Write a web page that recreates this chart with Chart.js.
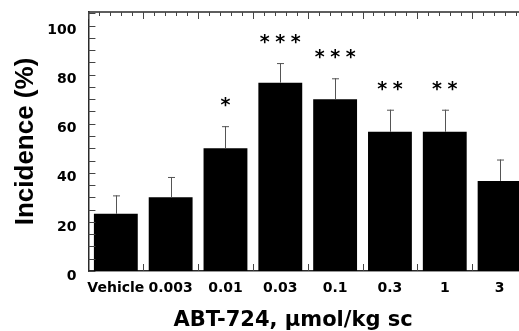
<!DOCTYPE html>
<html>
<head>
<meta charset="utf-8">
<script src="https://cdn.jsdelivr.net/npm/chart.js@4"></script>
<style>
  html, body { margin: 0; padding: 0; background: #fff; overflow: hidden; }
  #wrap { width: 530px; height: 331px; }
</style>
</head>
<body>
<div id="wrap"><canvas id="incidenceChart"></canvas></div>
<script>
// ABT-724 dose groups (umol/kg sc) and incidence (%)
const doses = ['Vehicle', '0.003', '0.01', '0.03', '0.1', '0.3', '1', '3'];
const incidence = [23.3, 30, 50, 76.7, 70, 56.7, 56.7, 36.7];
const sem = [7.5, 8.3, 9.0, 8.0, 8.5, 9.0, 9.0, 8.7];
const stars = [0, 0, 1, 3, 3, 2, 2, 0];
const yTicks = [0, 20, 40, 60, 80, 100];

const axisColor = '#2a2a2a';

// error bars, asterisks, frame and inward tick marks
const decorations = {
  id: 'decorations',
  afterDatasetsDraw(chart) {
    const { ctx, chartArea: a, scales: { x, y } } = chart;
    const bars = chart.getDatasetMeta(0).data;
    ctx.save();

    // error bars (upper only)
    ctx.strokeStyle = '#555';
    ctx.lineWidth = 1;
    bars.forEach((bar, i) => {
      const top = y.getPixelForValue(incidence[i] + sem[i]);
      const cx = Math.round(bar.x) + 0.5;
      ctx.beginPath();
      ctx.moveTo(cx, bar.y);
      ctx.lineTo(cx, top);
      ctx.moveTo(cx - 3.5, top + 0.5);
      ctx.lineTo(cx + 3.5, top + 0.5);
      ctx.stroke();
    });

    // significance asterisks
    ctx.fillStyle = '#000';
    ctx.font = 'bold 19px "DejaVu Sans"';
    ctx.textAlign = 'center';
    ctx.textBaseline = 'alphabetic';
    bars.forEach((bar, i) => {
      const n = stars[i];
      if (!n) return;
      const top = y.getPixelForValue(incidence[i] + sem[i]);
      for (let k = 0; k < n; k++) {
        ctx.fillText('*', bar.x + (k - (n - 1) / 2) * 15.5, top - 15);
      }
    });

    // top and right frame lines
    ctx.strokeStyle = axisColor;
    ctx.lineWidth = 1.5;
    ctx.beginPath();
    ctx.moveTo(a.left, a.top);
    ctx.lineTo(a.right, a.top);
    ctx.lineTo(a.right, a.bottom);
    ctx.stroke();

    // inward tick marks
    ctx.lineWidth = 1;
    ctx.strokeStyle = '#444';
    ctx.beginPath();
    for (let v = 0; v <= y.max; v += 5) {
      const py = Math.round(y.getPixelForValue(v)) + 0.5;
      ctx.moveTo(a.left, py); ctx.lineTo(a.left + 7, py);
      ctx.moveTo(a.right, py); ctx.lineTo(a.right - 7, py);
    }
    const cat = x.getPixelForValue(1) - x.getPixelForValue(0);
    for (let i = 0; i <= doses.length; i++) {
      for (let m = 0; m < 5; m++) {
        const px = Math.round(x.getPixelForValue(i) - cat / 2 + m * cat / 5) + 0.5;
        if (px > a.right) continue;
        ctx.moveTo(px, a.top);
        ctx.lineTo(px, a.top + (m === 0 ? 7 : 4));
      }
      const bx = Math.round(x.getPixelForValue(i) - cat / 2) + 0.5;
      if (i > 0 && bx < a.right) {
        ctx.moveTo(bx, a.bottom);
        ctx.lineTo(bx, a.bottom - 7);
      }
    }
    ctx.stroke();
    ctx.restore();
  }
};

new Chart(document.getElementById('incidenceChart'), {
  type: 'bar',
  data: {
    labels: doses,
    datasets: [{
      data: incidence,
      backgroundColor: '#000',
      borderWidth: 0,
      barPercentage: 0.8,
      categoryPercentage: 1.0
    }]
  },
  options: {
    responsive: true,
    maintainAspectRatio: false,
    animation: false,
    layout: { padding: { left: 10, top: 12, right: 3, bottom: 0 } },
    plugins: { legend: { display: false }, tooltip: { enabled: false } },
    scales: {
      x: {
        // grid hidden, but tickLength keeps the gap below the axis
        grid: { display: false, drawTicks: true, tickLength: 9 },
        border: { color: axisColor, width: 1.5 },
        ticks: {
          color: '#000', autoSkip: false, maxRotation: 0, padding: 0,
          font: { family: 'DejaVu Sans', size: 14, weight: 'bold' }
        },
        title: {
          // trailing spaces pull the centred title left, as in the figure
          display: true, text: 'ABT-724, µmol/kg sc    ', color: '#000',
          font: { family: 'DejaVu Sans', size: 21, weight: 'bold' },
          padding: { top: 11, bottom: -2 }
        }
      },
      y: {
        min: 0,
        max: 105.5,
        afterBuildTicks: s => { s.ticks = yTicks.map(v => ({ value: v })); },
        grid: { display: false, drawTicks: true, tickLength: 12 },
        border: { color: axisColor, width: 1.5 },
        ticks: {
          color: '#000', padding: 0, labelOffset: 5,
          font: { family: 'DejaVu Sans', size: 14, weight: 'bold' }
        },
        title: {
          display: true, text: 'Incidence (%)', color: '#000',
          font: { family: 'Liberation Sans', size: 26, weight: 'bold' },
          padding: { top: 0, bottom: 6 }
        }
      }
    }
  },
  plugins: [decorations]
});
</script>
</body>
</html>
